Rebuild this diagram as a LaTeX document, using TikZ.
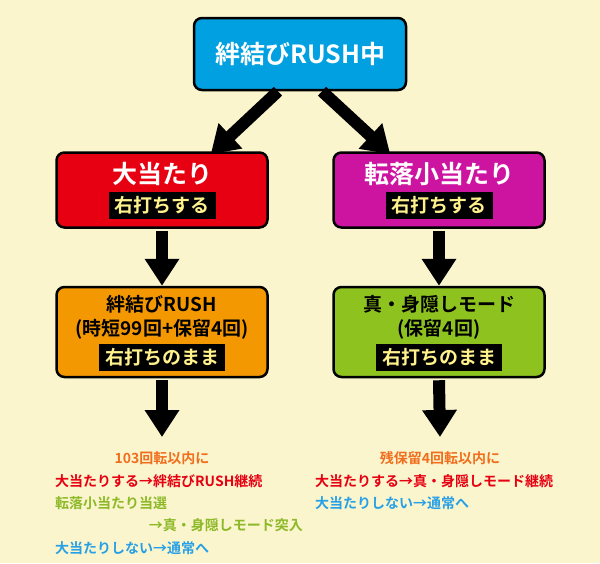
\documentclass[tikz,border=0pt]{standalone}
\usepackage{fontspec}
\setmainfont{Noto Sans CJK JP}[BoldFont={Noto Sans CJK JP Bold}]
\usetikzlibrary{arrows.meta}
\definecolor{bgcream}{RGB}{250,245,205}
\definecolor{topcyan}{RGB}{0,160,225}
\definecolor{hitred}{RGB}{230,0,18}
\definecolor{dropmag}{RGB}{204,20,160}
\definecolor{rushorange}{RGB}{243,152,0}
\definecolor{modegreen}{RGB}{141,194,31}
\definecolor{tagyellow}{RGB}{255,242,140}
\definecolor{txtorange}{RGB}{240,110,30}
\definecolor{txtred}{RGB}{230,0,18}
\definecolor{txtgreen}{RGB}{141,185,40}
\definecolor{txtblue}{RGB}{40,160,230}
\tikzset{box/.style={draw=black, line width=2.5pt, rounded corners=8pt, minimum width=211pt, inner sep=0pt}}
\tikzset{tag/.style={fill=black, text=tagyellow, font=\bfseries\fontsize{19}{19}\selectfont, inner xsep=6pt, inner ysep=0pt, minimum height=27pt}}
\tikzset{flow/.style={line width=12pt, -{Triangle[length=27pt, width=33pt]}}}
\tikzset{note/.style={font=\bfseries\fontsize{14}{14}\selectfont, inner sep=0pt}}
\tikzset{title/.style={text=white, font=\bfseries\fontsize{25}{25}\selectfont}}
\tikzset{sub/.style={font=\bfseries\fontsize{19}{19}\selectfont}}

\begin{document}
\begin{tikzpicture}[x=1pt, y=-1pt]
	% Background
	\fill[bgcream] (0,0) rectangle (600,563);
	\useasboundingbox (0,0) rectangle (600,563);

	% Boxes
	\node[box, fill=topcyan, minimum width=212pt, minimum height=72pt, title] (top) at (300,54) {絆結びRUSH中};
	\node[box, fill=hitred, minimum height=75pt] (hit) at (162,190) {};
	\node[box, fill=dropmag, minimum height=75pt] (drop) at (439,190) {};
	\node[box, fill=rushorange, minimum height=90pt] (rush) at (162,332) {};
	\node[box, fill=modegreen, minimum height=90pt] (mode) at (439,332) {};

	% Box texts
	\node[title] (hit title) at (162,174) {大当たり};
	\node[tag] (hit tag) at (162,205) {右打ちする};
	\node[title] (drop title) at (439,174) {転落小当たり};
	\node[tag] (drop tag) at (439,205) {右打ちする};

	\node[sub] (rush title) at (162,304) {絆結びRUSH};
	\node[sub] (rush sub) at (162,329) {(時短99回+保留4回)};
	\node[tag] (rush tag) at (162,357) {右打ちのまま};
	\node[sub] (mode title) at (439,304) {真・身隠しモード};
	\node[sub] (mode sub) at (439,329) {(保留4回)};
	\node[tag] (mode tag) at (439,357) {右打ちのまま};

	% Outcome texts
	\node[note, text=txtorange] (rush cond) at (162,458) {103回転以内に};
	\node[note, text=txtred, anchor=west] (rush win) at (55,481) {大当たりする→絆結びRUSH継続};
	\node[note, text=txtgreen, anchor=west] (rush drop) at (55,503) {転落小当たり当選};
	\node[note, text=txtgreen, anchor=east] (rush drop2) at (303,525) {→真・身隠しモード突入};
	\node[note, text=txtblue, anchor=west] (rush lose) at (55,548) {大当たりしない→通常へ};
	\node[note, text=txtorange] (mode cond) at (440,458) {残保留4回転以内に};
	\node[note, text=txtred, anchor=west] (mode win) at (315,481) {大当たりする→真・身隠しモード継続};
	\node[note, text=txtblue, anchor=west] (mode lose) at (315,503) {大当たりしない→通常へ};

	% Arrows
	\coordinate (rush end) at (162,437);
	\coordinate (mode end) at (440,437);
	\draw[flow] ([xshift=-22pt]top.south) -- ([xshift=-58pt, yshift=-3pt]hit.north east);
	\draw[flow] ([xshift=22pt]top.south) -- ([xshift=58pt, yshift=-3pt]drop.north west);
	\draw[flow] ([yshift=-2pt]hit.south) -- (rush.north);
	\draw[flow] ([yshift=-2pt]drop.south) -- (mode.north);
	\draw[flow] ([yshift=-2pt]rush.south) -- (rush end);
	\draw[flow] ([yshift=-2pt]mode.south) -- (mode end);
\end{tikzpicture}
\end{document}
